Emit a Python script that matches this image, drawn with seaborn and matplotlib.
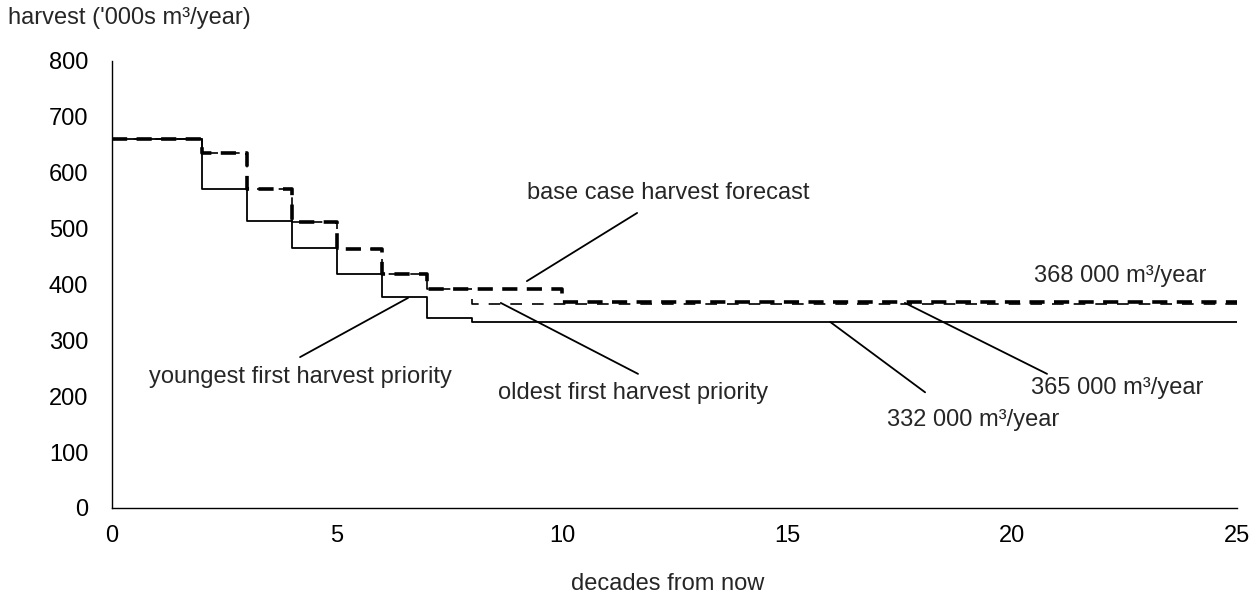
import matplotlib
matplotlib.use("Agg")
import matplotlib.pyplot as plt
import pandas as pd
import seaborn as sns

# Step data: breakpoints (decades) and harvest ('000s m3/year) held from that point on
base_x = [0, 2, 3, 4, 5, 6, 7, 10, 25]
base_y = [660, 636, 571, 512, 464, 418, 392, 368, 368]

oldest_x = [0, 2, 3, 4, 5, 6, 7, 8, 25]
oldest_y = [660, 636, 571, 512, 464, 418, 392, 365, 365]

youngest_x = [0, 2, 3, 4, 5, 6, 7, 8, 25]
youngest_y = [660, 571, 514, 465, 418, 377, 340, 332, 332]

x_ticks = [0, 5, 10, 15, 20, 25]
y_ticks = [0, 100, 200, 300, 400, 500, 600, 700, 800]

# label text, text position, leader start, leader end (data coords)
labels = [
    ("base case harvest forecast", (12.36, 563), (11.67, 528), (9.22, 406)),
    ("youngest first harvest priority", (4.18, 234), (4.18, 270), (6.58, 376)),
    ("oldest first harvest priority", (11.58, 206), (11.69, 240), (8.64, 367)),
    ("368 000 m³/year", (22.4, 415), None, None),
    ("365 000 m³/year", (22.33, 215), (20.78, 240), (17.62, 367)),
    ("332 000 m³/year", (19.13, 157), (18.07, 207), (15.96, 333)),
]

FS = 17

sns.set_style("white")
plt.rcParams['font.family'] = ['Liberation Sans', 'DejaVu Sans']

fig = plt.figure(figsize=(12.54, 5.96), dpi=100)
ax = fig.add_axes([0.0893, 0.1477, 0.8971, 0.75])

df_old = pd.DataFrame({'x': oldest_x, 'y': oldest_y})
df_base = pd.DataFrame({'x': base_x, 'y': base_y})
df_young = pd.DataFrame({'x': youngest_x, 'y': youngest_y})

sns.lineplot(df_old, x='x', y='y', ax=ax, drawstyle='steps-post', color='black',
             lw=1.2, linestyle=(0, (7, 6)))
sns.lineplot(df_base, x='x', y='y', ax=ax, drawstyle='steps-post', color='black',
             lw=2.6, linestyle=(0, (4.2, 2.6)))
sns.lineplot(df_young, x='x', y='y', ax=ax, drawstyle='steps-post', color='black',
             lw=1.3)

for text, pos, start, end in labels:
    ax.text(pos[0], pos[1], text, ha='center', va='center', fontsize=FS)
    if start is not None:
        ax.plot([start[0], end[0]], [start[1], end[1]], color='black', lw=1.3)

ax.set_xlim(0, 25)
ax.set_ylim(0, 800)
ax.set_xticks(x_ticks)
ax.set_yticks(y_ticks)
ax.set_xlabel('')
ax.set_ylabel('')
ax.tick_params(axis='both', which='major', direction='out', length=6, width=1,
               color='black', labelsize=FS, labelcolor='black')
ax.tick_params(axis='x', pad=6)
ax.tick_params(axis='y', pad=11)
for side in ['top', 'right']:
    ax.spines[side].set_visible(False)
for side in ['left', 'bottom']:
    ax.spines[side].set_color('black')
    ax.spines[side].set_linewidth(1)

fig.text(8 / 1254, 1 - 18 / 596, "harvest ('000s m³/year)", ha='left', va='center', fontsize=FS)
fig.text(668 / 1254, 1 - 584 / 596, "decades from now", ha='center', va='center', fontsize=FS)

fig.savefig('out.png', dpi=100)
